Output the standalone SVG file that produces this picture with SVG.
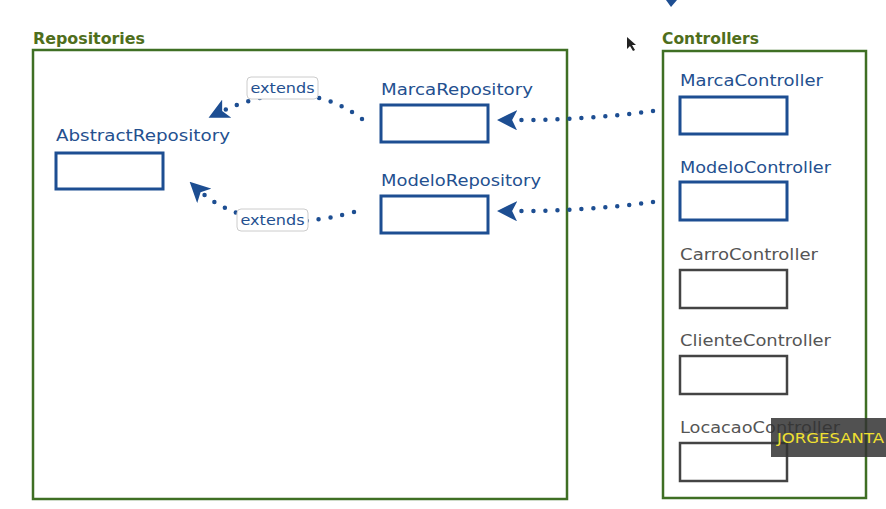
<svg xmlns="http://www.w3.org/2000/svg" width="886" height="509" viewBox="0 0 886 509">
<defs>
<style>
.title{font-family:"DejaVu Sans","Liberation Sans",sans-serif;font-size:16px;font-weight:600;fill:#4f6e1c}
.lbl{font-family:"DejaVu Sans","Liberation Sans",sans-serif;font-size:16.5px;fill:#24508f}
.glbl{font-family:"DejaVu Sans","Liberation Sans",sans-serif;font-size:16.5px;fill:#555}
.box{fill:#fff;stroke:#1d4e92;stroke-width:3}
.gbox{fill:#fff;stroke:#444;stroke-width:2.5}
.cont{fill:#fff;stroke:#3f6f24;stroke-width:2.5}
.dot{fill:none;stroke:#1d4e92;stroke-width:4.5;stroke-linecap:round;stroke-dasharray:0 12}
.ext{fill:#fff;stroke:#ccc;stroke-width:1}
.extt{font-family:"DejaVu Sans","Liberation Sans",sans-serif;font-size:14.5px;fill:#24508f}
</style>
<marker id="ah" viewBox="0 0 10 10" refX="7" refY="5" markerWidth="4.5" markerHeight="4.5" orient="auto" markerUnits="strokeWidth">
<path d="M0,0 L10,5 L0,10 L2.5,5 Z" fill="#1d4e92"/>
</marker>
</defs>
<rect width="886" height="509" fill="#fff"/>
<polygon points="666,0 677,0 671,7" fill="#1d4e92"/>
<path d="M627,37 L627,49 L630,46 L633,51 L635,50 L632,45 L636,45 Z" fill="#222"/>

<g id="repositories">
<text class="title" x="33" y="44" textLength="112" lengthAdjust="spacingAndGlyphs">Repositories</text>
<rect class="cont" x="33" y="50" width="534" height="449"/>
</g>
<g id="controllers">
<text class="title" x="662" y="44" textLength="97" lengthAdjust="spacingAndGlyphs">Controllers</text>
<rect class="cont" x="663" y="51" width="203" height="447"/>
</g>

<g id="abstractRepository">
<text class="lbl" x="56" y="141" textLength="174" lengthAdjust="spacingAndGlyphs">AbstractRepository</text>
<rect class="box" x="56" y="153" width="107" height="36"/>
</g>
<g id="marcaRepository">
<text class="lbl" x="381" y="95" textLength="152" lengthAdjust="spacingAndGlyphs">MarcaRepository</text>
<rect class="box" x="381" y="105" width="107" height="37"/>
</g>
<g id="modeloRepository">
<text class="lbl" x="381" y="186" textLength="160" lengthAdjust="spacingAndGlyphs">ModeloRepository</text>
<rect class="box" x="381" y="196" width="107" height="37"/>
</g>
<g id="marcaController">
<text class="lbl" x="680" y="86" textLength="143" lengthAdjust="spacingAndGlyphs">MarcaController</text>
<rect class="box" x="680" y="97" width="107" height="37"/>
</g>
<g id="modeloController">
<text class="lbl" x="680" y="173" textLength="151" lengthAdjust="spacingAndGlyphs">ModeloController</text>
<rect class="box" x="680" y="182" width="107" height="38"/>
</g>
<g id="carroController">
<text class="glbl" x="680" y="260" textLength="138" lengthAdjust="spacingAndGlyphs">CarroController</text>
<rect class="gbox" x="680" y="270" width="107" height="38"/>
</g>
<g id="clienteController">
<text class="glbl" x="680" y="346" textLength="151" lengthAdjust="spacingAndGlyphs">ClienteController</text>
<rect class="gbox" x="680" y="356" width="107" height="38"/>
</g>
<g id="locacaoController">
<text class="glbl" x="680" y="433" textLength="160" lengthAdjust="spacingAndGlyphs">LocacaoController</text>
<rect class="gbox" x="680" y="443" width="107" height="38"/>
</g>

<g id="connectors">
<path class="dot" d="M653,111 Q580,121 503,120" marker-end="url(#ah)"/>
<path class="dot" d="M653,202 Q580,212 503,211" marker-end="url(#ah)"/>
<path class="dot" d="M362,119 Q300,72 214,115" marker-end="url(#ah)"/>
<path class="dot" d="M354,212 Q250,240 194,186" marker-end="url(#ah)"/>
<g id="ext1">
<rect class="ext" x="247" y="77" width="71" height="22" rx="4"/>
<text class="extt" x="282.5" y="93" text-anchor="middle" textLength="64" lengthAdjust="spacingAndGlyphs">extends</text>
</g>
<g id="ext2">
<rect class="ext" x="237" y="209" width="71" height="22" rx="4"/>
<text class="extt" x="272.5" y="225" text-anchor="middle" textLength="64" lengthAdjust="spacingAndGlyphs">extends</text>
</g>
</g>

<g id="watermark">
<rect x="771" y="418" width="115" height="39" fill="#333" fill-opacity="0.85"/>
<text x="777" y="443" font-family="DejaVu Sans, Liberation Sans, sans-serif" font-size="14" fill="#f0e030" textLength="107" lengthAdjust="spacingAndGlyphs">JORGESANTA</text>
</g>
</svg>
